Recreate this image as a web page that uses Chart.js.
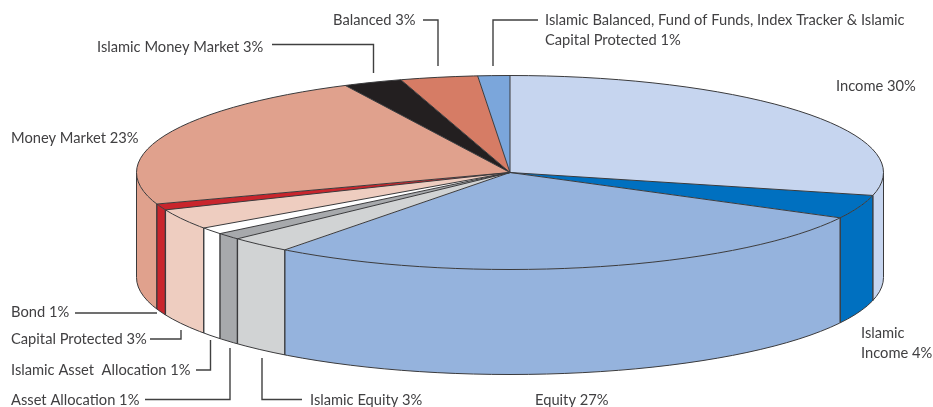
<!DOCTYPE html>
<html>
<head>
<meta charset="utf-8">
<script src="https://cdn.jsdelivr.net/npm/chart.js@4"></script>
<style>html,body{margin:0;padding:0;background:#fff}canvas{display:block}</style>
</head>
<body>
<canvas id="c" width="933" height="407"></canvas>
<script>
// Categories, clockwise from 12 o'clock
const categories = ["Income","Islamic Income","Equity","Islamic Equity","Asset Allocation","Islamic Asset Allocation","Capital Protected","Bond","Money Market","Islamic Money Market","Balanced","Islamic Balanced, Fund of Funds, Index Tracker & Islamic Capital Protected"];
const sliceShares = [28.8,3.94,27.56,2.72,1.13,1.15,3.4,1.03,23,2.55,3.34,1.38];
// Percentages as printed on the reference
const printedPercents = [30,4,27,3,1,1,3,1,23,3,3,1];
const sliceColors = ["#c6d5ef","#0070c0","#95b3dd","#d1d3d4","#a7a9ac","#ffffff","#eecdc0","#c9252c","#e0a18d","#231f20","#d67c65","#7ba6db"];

const labelLines = [
  ["Income 30%"],["Islamic","Income 4%"],["Equity 27%"],["Islamic Equity 3%"],["Asset Allocation 1%"],
  ["Islamic Asset  Allocation 1%"],["Capital Protected 3%"],["Bond 1%"],["Money Market 23%"],
  ["Islamic Money Market 3%"],["Balanced 3%"],["Islamic Balanced, Fund of Funds, Index Tracker & Islamic","Capital Protected 1%"]
];

// Layout only
const PIE = {cx:510, cy:172.5, rx:373.5, ry:97, depth:105};
const TEXT_COLOR = "#414042", EDGE = "#3a3a3c";
const labelAnchors = [[836,86],[861,333],[535,400],[310,400],[11,400],[11,370],[11,339],[11,312],[11,138],[97,47],[333,20],[545,20]];
const leaders = [
  null,null,null,
  [[302,399.5],[262,399.5],[262,358]],
  [[145,399.5],[230,399.5],[230,348]],
  [[196,370],[210.5,370],[210.5,340]],
  [[150,339],[181,339],[181,330]],
  [[75,313],[157,313]],
  null,
  [[272,44.5],[373.5,44.5],[373.5,73]],
  [[423,20],[438,20],[438,66]],
  [[538,20],[493,20],[493,66]]
];

const tilt3d = {
  id:'tilt3d',
  beforeDatasetsDraw(chart){
    const ctx = chart.ctx, arcs = chart.getDatasetMeta(0).data;
    ctx.save();
    // side walls of the visible front half
    arcs.forEach((arc,i)=>{
      const p = arc.getProps(['startAngle','endAngle']);
      const lo = Math.max(p.startAngle,0), hi = Math.min(p.endAngle,Math.PI);
      if (lo>=hi) return;
      ctx.beginPath();
      ctx.ellipse(PIE.cx,PIE.cy,PIE.rx,PIE.ry,0,lo,hi);
      ctx.ellipse(PIE.cx,PIE.cy+PIE.depth,PIE.rx,PIE.ry,0,hi,lo,true);
      ctx.closePath();
      ctx.fillStyle = arc.options.backgroundColor;
      ctx.fill();
    });
    ctx.strokeStyle = EDGE; ctx.lineWidth = 1;
    ctx.beginPath();
    ctx.ellipse(PIE.cx,PIE.cy+PIE.depth,PIE.rx,PIE.ry,0,0,Math.PI);
    ctx.stroke();
    ctx.lineWidth = 1.4;
    arcs.forEach(arc=>{
      const a = arc.getProps(['endAngle']).endAngle;
      if (a<=0 || a>=Math.PI) return;
      const x = PIE.cx+PIE.rx*Math.cos(a), y = PIE.cy+PIE.ry*Math.sin(a);
      ctx.beginPath(); ctx.moveTo(x,y); ctx.lineTo(x,y+PIE.depth); ctx.stroke();
    });
    ctx.lineWidth = 1;
    [0,Math.PI].forEach(a=>{
      const x = PIE.cx+PIE.rx*Math.cos(a);
      ctx.beginPath(); ctx.moveTo(x,PIE.cy); ctx.lineTo(x,PIE.cy+PIE.depth); ctx.stroke();
    });
    // flatten the library's pie into the top face
    const ref = arcs[0], r = ref.outerRadius;
    ctx.translate(PIE.cx,PIE.cy);
    ctx.scale(PIE.rx/r,PIE.ry/r);
    ctx.translate(-ref.x,-ref.y);
  },
  afterDatasetsDraw(chart){
    const ctx = chart.ctx, arcs = chart.getDatasetMeta(0).data;
    ctx.restore();
    ctx.save();
    ctx.strokeStyle = EDGE; ctx.lineWidth = 1;
    arcs.forEach(arc=>{
      const a = arc.getProps(['startAngle']).startAngle;
      ctx.beginPath();
      ctx.moveTo(PIE.cx,PIE.cy);
      ctx.lineTo(PIE.cx+PIE.rx*Math.cos(a),PIE.cy+PIE.ry*Math.sin(a));
      ctx.stroke();
    });
    ctx.beginPath();
    ctx.ellipse(PIE.cx,PIE.cy,PIE.rx,PIE.ry,0,0,Math.PI*2);
    ctx.stroke();
    // leaders
    ctx.strokeStyle = "#404040"; ctx.lineWidth = 1.4;
    leaders.forEach(pts=>{
      if(!pts) return;
      ctx.beginPath();
      pts.forEach((q,i)=> i?ctx.lineTo(q[0],q[1]):ctx.moveTo(q[0],q[1]));
      ctx.stroke();
    });
    // labels
    ctx.fillStyle = TEXT_COLOR;
    ctx.font = "14.7px Lato";
    ctx.textAlign = "left"; ctx.textBaseline = "middle";
    labelLines.forEach((lines,i)=>{
      lines.forEach((t,j)=> ctx.fillText(t,labelAnchors[i][0],labelAnchors[i][1]+j*20));
    });
    ctx.restore();
  }
};

new Chart(document.getElementById('c'),{
  type:'pie',
  data:{labels:categories,datasets:[{data:sliceShares,backgroundColor:sliceColors,borderWidth:0,clip:false}]},
  options:{
    responsive:false,animation:false,events:[],
    layout:{padding:0},
    plugins:{legend:{display:false},title:{display:false},tooltip:{enabled:false}}
  },
  plugins:[tilt3d]
});
</script>
</body>
</html>
